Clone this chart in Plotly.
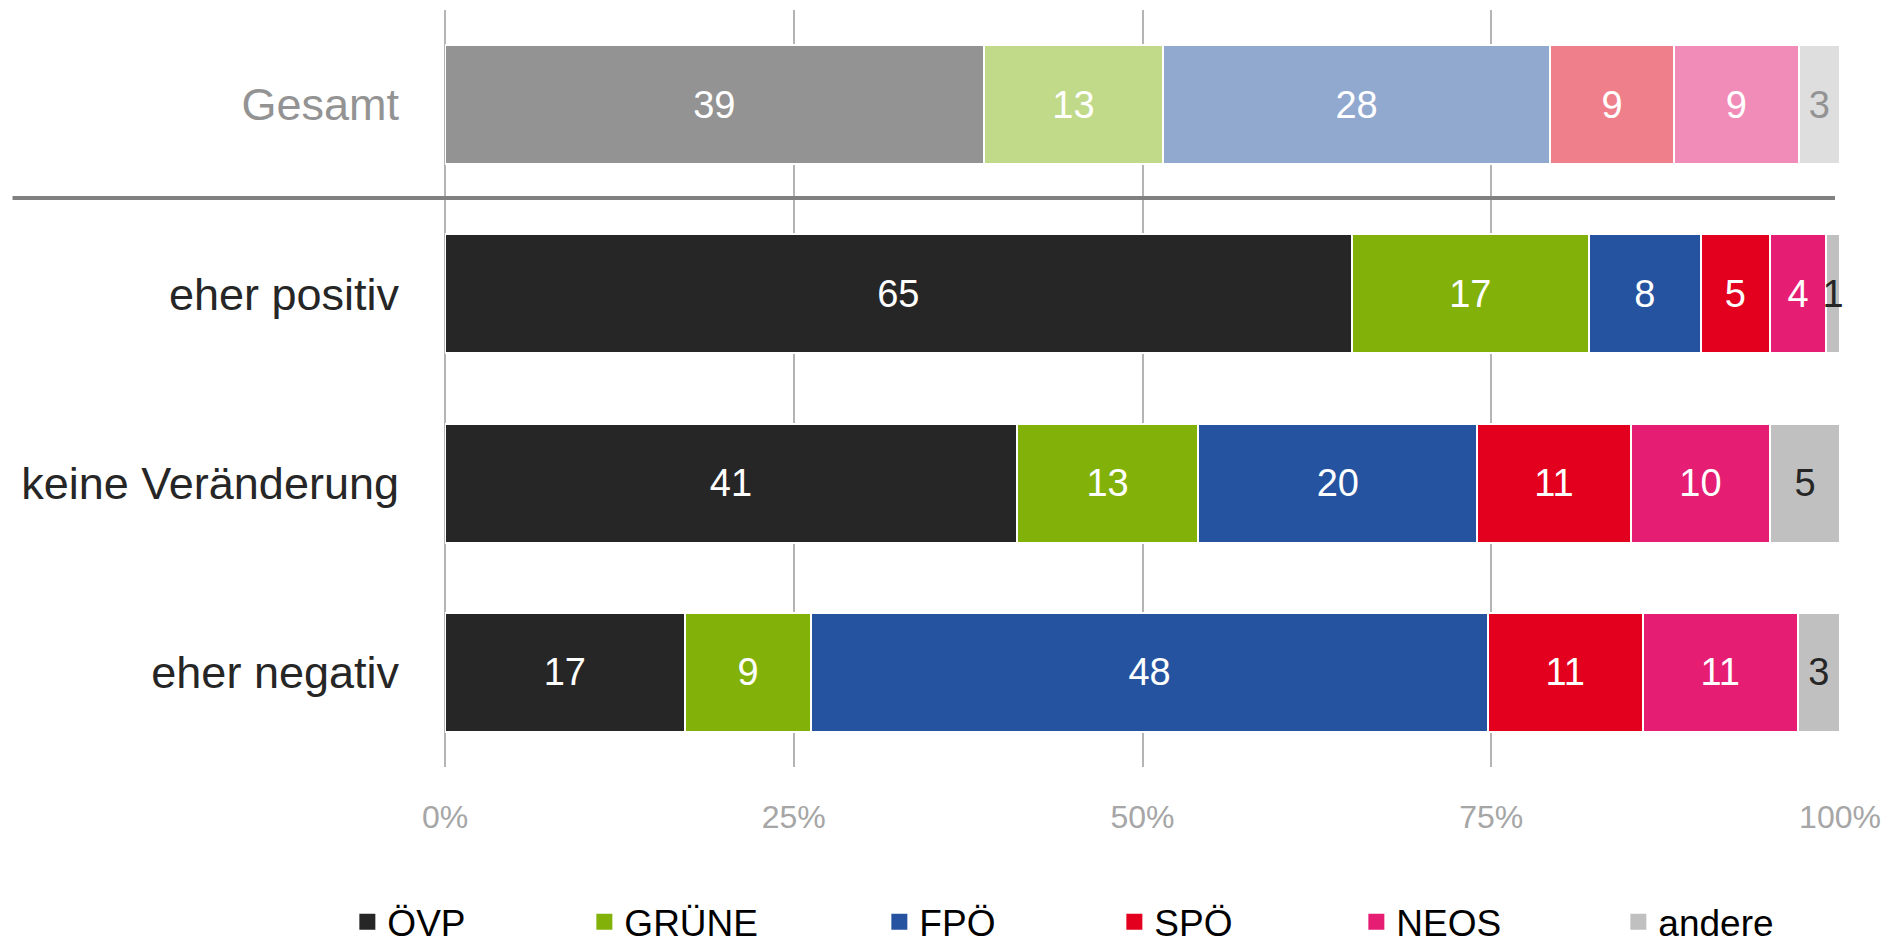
import plotly.graph_objects as go

# ---------------- data ----------------
parties = ["ÖVP", "GRÜNE", "FPÖ", "SPÖ", "NEOS", "andere"]
groups = ["eher positiv", "keine Veränderung", "eher negativ"]
total_label = "Gesamt"

gesamt = [39, 13, 28, 9, 9, 3]
eher_positiv = [65, 17, 8, 5, 4, 1]
keine_veraenderung = [41, 13, 20, 11, 10, 5]
eher_negativ = [17, 9, 48, 11, 11, 3]

tick_vals = [0, 25, 50, 75, 100]
tick_text = ["0%", "25%", "50%", "75%", "100%"]

# ---------------- styles ----------------
main_colors = ["#262626", "#82b20a", "#2553a0", "#e2001e", "#e51e73", "#c0c0c0"]
light_colors = ["#939393", "#c1da8a", "#91a9cf", "#ef7f8a", "#f18cb8", "#dedede"]
main_text_colors = ["white", "white", "white", "white", "white", "#262626"]
light_text_colors = ["white", "white", "white", "white", "white", "#939393"]
legend_widths = [192, 250, 190, 197, 217, 125]
FONT = "Liberation Sans, Arial, sans-serif"

group_values = [eher_positiv, keine_veraenderung, eher_negativ]
y_order = [total_label] + groups

fig = go.Figure()
for i, party in enumerate(parties):
    xs = [row[i] for row in group_values] + [gesamt[i]]
    ys = groups + [total_label]
    fig.add_trace(go.Bar(
        x=xs,
        y=ys,
        orientation="h",
        name=party,
        showlegend=False,
        legendgroup=party,
        marker=dict(
            color=[main_colors[i]] * len(groups) + [light_colors[i]],
            line=dict(color="white", width=2),
        ),
        text=xs,
        texttemplate="%{text}",
        textposition="inside",
        insidetextanchor="middle",
        textangle=0,
        constraintext="none",
        insidetextfont=dict(
            family=FONT, size=38,
            color=[main_text_colors[i]] * len(groups) + [light_text_colors[i]],
        ),
        cliponaxis=False,
        hoverinfo="x+y+name",
    ))

# legend entries (larger square swatches than the bar default)
for i, party in enumerate(parties):
    fig.add_trace(go.Scatter(
        x=[None], y=[None],
        mode="markers",
        name=party,
        legendgroup=party,
        marker=dict(symbol="square", size=16, color=main_colors[i]),
        legendwidth=legend_widths[i],
        hoverinfo="skip",
    ))

y_ticktext = [
    f"<span style='color:#939393'>{c}</span>" if c == total_label else c
    for c in y_order
]

fig.update_layout(
    width=1891,
    height=944,
    barmode="stack",
    barnorm="percent",
    bargap=0.37,
    plot_bgcolor="white",
    paper_bgcolor="white",
    margin=dict(l=445, r=51, t=10, b=177, autoexpand=False),
    font=dict(family=FONT, color="#262626"),
    xaxis=dict(
        range=[0, 100],
        tickvals=tick_vals,
        ticktext=tick_text,
        showgrid=True,
        gridcolor="#b4b4b4",
        gridwidth=2,
        zeroline=True,
        zerolinecolor="#b4b4b4",
        zerolinewidth=2,
        showline=False,
        ticks="",
        tickfont=dict(family=FONT, size=32, color="#a6a6a6"),
        ticklabelstandoff=28,
        automargin=False,
        fixedrange=True,
    ),
    yaxis=dict(
        type="category",
        categoryorder="array",
        categoryarray=y_order,
        tickvals=y_order,
        ticktext=y_ticktext,
        range=[3.5, -0.5],
        showgrid=False,
        zeroline=False,
        showline=False,
        ticks="",
        tickfont=dict(family=FONT, size=45, color="#262626"),
        ticklabelstandoff=45,
        automargin=False,
        fixedrange=True,
    ),
    legend=dict(
        orientation="h",
        x=-0.07,
        xanchor="left",
        y=-0.205,
        yanchor="middle",
        font=dict(family=FONT, size=37, color="#000000"),
        traceorder="normal",
        itemsizing="trace",
        bgcolor="rgba(0,0,0,0)",
    ),
    shapes=[
        dict(
            type="line",
            xref="paper", yref="y",
            x0=-0.31, x1=0.9964,
            y0=0.494, y1=0.494,
            line=dict(color="#808080", width=4),
            layer="above",
        )
    ],
)

fig.write_html(
    "out.html",
    config={"displayModeBar": False},
    post_script="document.body.style.margin='0';document.body.style.padding='0';document.body.style.overflow='hidden';",
)
